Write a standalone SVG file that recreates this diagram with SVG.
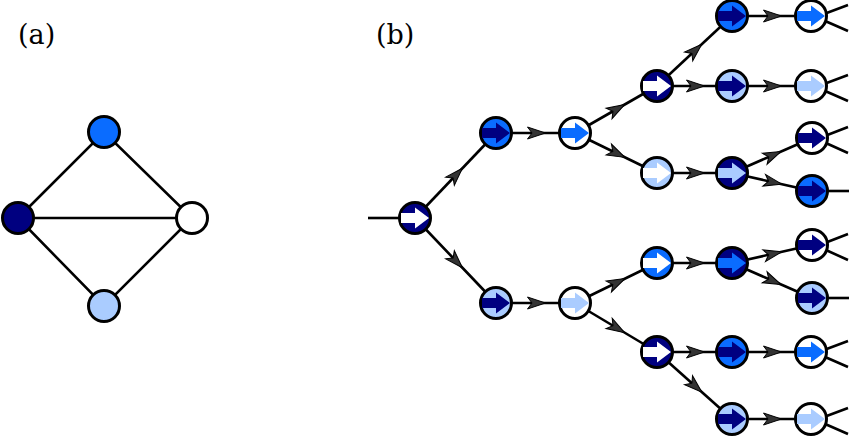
<svg xmlns="http://www.w3.org/2000/svg" xmlns:xlink="http://www.w3.org/1999/xlink" width="850" height="440" viewBox="0 0 850 440">
<style>
.e{fill:none;stroke:#000;stroke-width:2.6;marker-mid:url(#ah)}
.p{fill:none;stroke:#000;stroke-width:2.6}
.c{stroke:#000;stroke-width:3}
.nv{fill:#000080}.bl{fill:#0a6cff}.lt{fill:#aaccff}.wh{fill:#ffffff}
.lbl{font-family:"DejaVu Serif","Liberation Serif",serif;font-size:27px;fill:#000}
</style>
<defs>
<marker id="ah" markerUnits="userSpaceOnUse" markerWidth="20" markerHeight="20" refX="0" refY="0" orient="auto" overflow="visible">
<path d="M10,0 L-8,-6 L-3.5,0 L-8,6 Z" fill="#333" stroke="#000" stroke-width="1" stroke-linejoin="miter"/>
</marker>
<path id="arr" d="M-14,-5 H0 V-10.5 L14,0 L0,10.5 V5 H-14 Z"/>
</defs>
<text class="lbl" x="18" y="44">(a)</text>
<text class="lbl" x="376" y="44">(b)</text>
<g id="edges-a">
<path class="p" d="M18,218 L104,132 L192,218 L104,306 Z M18,218 H192"/>
</g>
<g id="a-top"><circle class="c bl" cx="104" cy="132" r="15.5"/></g>
<g id="a-left"><circle class="c nv" cx="18" cy="218" r="15.5"/></g>
<g id="a-right"><circle class="c wh" cx="192" cy="218" r="15.5"/></g>
<g id="a-bottom"><circle class="c lt" cx="104" cy="306" r="15.5"/></g>
<g id="connectors">
<path class="p" d="M368,218 H400"/>
<path class="e" d="M415,218 L455.5,175.5 L496,133"/>
<path class="e" d="M415,218 L455.5,260.5 L496,303"/>
<path class="e" d="M496,133 L535.5,133 L575,133"/>
<path class="e" d="M496,303 L535.5,303 L575,303"/>
<path class="e" d="M575,133 L616,109.5 L657,86"/>
<path class="e" d="M575,133 L616,153 L657,173"/>
<path class="e" d="M575,303 L616,283 L657,263"/>
<path class="e" d="M575,303 L616,327.5 L657,352"/>
<path class="e" d="M657,86 L694.5,51 L732,16"/>
<path class="e" d="M657,86 L694.5,86 L732,86"/>
<path class="e" d="M657,173 L694.5,173 L732,173"/>
<path class="e" d="M657,263 L694.5,263 L732,263"/>
<path class="e" d="M657,352 L694.5,352 L732,352"/>
<path class="e" d="M657,352 L694.5,385.5 L732,419"/>
<path class="e" d="M732,16 L771.5,16 L811,16"/>
<path class="e" d="M732,86 L771.5,86 L811,86"/>
<path class="e" d="M732,173 L772,155.5 L812,138"/>
<path class="e" d="M732,173 L772,182 L812,191"/>
<path class="e" d="M732,263 L772,254 L812,245"/>
<path class="e" d="M732,263 L772,280.5 L812,298"/>
<path class="e" d="M732,352 L771.5,352 L811,352"/>
<path class="e" d="M732,419 L771.5,419 L811,419"/>
<path class="p" d="M816,17 L848,5 M816,17 L848,31"/>
<path class="p" d="M816,87 L848,75 M816,87 L848,101"/>
<path class="p" d="M817,139 L848,127 M817,139 L848,153"/>
<path class="p" d="M817,191 H849"/>
<path class="p" d="M817,246 L848,234 M817,246 L848,260"/>
<path class="p" d="M817,298 H849"/>
<path class="p" d="M816,353 L848,341 M816,353 L848,367"/>
<path class="p" d="M816,420 L848,408 M816,420 L848,434"/>
</g>
<g id="root" transform="translate(415,218)"><circle class="c nv" r="15.5"/><use href="#arr" class="wh"/></g>
<g id="n-a1" transform="translate(496,133)"><circle class="c bl" r="15.5"/><use href="#arr" class="nv"/></g>
<g id="n-b1" transform="translate(496,303)"><circle class="c lt" r="15.5"/><use href="#arr" class="nv"/></g>
<g id="n-a2" transform="translate(575,133)"><circle class="c wh" r="15.5"/><use href="#arr" class="bl"/></g>
<g id="n-b2" transform="translate(575,303)"><circle class="c wh" r="15.5"/><use href="#arr" class="lt"/></g>
<g id="n-3a" transform="translate(657,86)"><circle class="c nv" r="15.5"/><use href="#arr" class="wh"/></g>
<g id="n-3b" transform="translate(657,173)"><circle class="c lt" r="15.5"/><use href="#arr" class="wh"/></g>
<g id="n-3c" transform="translate(657,263)"><circle class="c bl" r="15.5"/><use href="#arr" class="wh"/></g>
<g id="n-3d" transform="translate(657,352)"><circle class="c nv" r="15.5"/><use href="#arr" class="wh"/></g>
<g id="n-4a" transform="translate(732,16)"><circle class="c bl" r="15.5"/><use href="#arr" class="nv"/></g>
<g id="n-4b" transform="translate(732,86)"><circle class="c lt" r="15.5"/><use href="#arr" class="nv"/></g>
<g id="n-4c" transform="translate(732,173)"><circle class="c nv" r="15.5"/><use href="#arr" class="lt"/></g>
<g id="n-4d" transform="translate(732,263)"><circle class="c nv" r="15.5"/><use href="#arr" class="bl"/></g>
<g id="n-4e" transform="translate(732,352)"><circle class="c bl" r="15.5"/><use href="#arr" class="nv"/></g>
<g id="n-4f" transform="translate(732,419)"><circle class="c lt" r="15.5"/><use href="#arr" class="nv"/></g>
<g id="n-5a" transform="translate(811,16)"><circle class="c wh" r="15.5"/><use href="#arr" class="bl"/></g>
<g id="n-5b" transform="translate(811,86)"><circle class="c wh" r="15.5"/><use href="#arr" class="lt"/></g>
<g id="n-5c" transform="translate(812,138)"><circle class="c wh" r="15.5"/><use href="#arr" class="nv"/></g>
<g id="n-5d" transform="translate(812,191)"><circle class="c bl" r="15.5"/><use href="#arr" class="nv"/></g>
<g id="n-5e" transform="translate(812,245)"><circle class="c wh" r="15.5"/><use href="#arr" class="nv"/></g>
<g id="n-5f" transform="translate(812,298)"><circle class="c lt" r="15.5"/><use href="#arr" class="nv"/></g>
<g id="n-5g" transform="translate(811,352)"><circle class="c wh" r="15.5"/><use href="#arr" class="bl"/></g>
<g id="n-5h" transform="translate(811,419)"><circle class="c wh" r="15.5"/><use href="#arr" class="lt"/></g>
</svg>
